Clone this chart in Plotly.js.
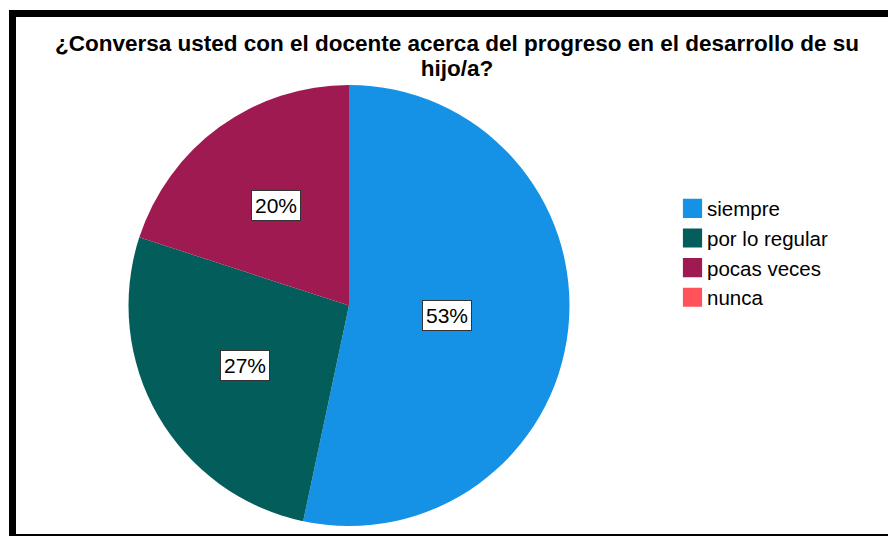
<!DOCTYPE html>
<html>
<head>
<meta charset="utf-8">
<script src="https://cdn.plot.ly/plotly-3.0.1.min.js"></script>
<style>
  html, body { margin: 0; padding: 0; background: #ffffff; }
  #chart { width: 888px; height: 536px; }
  /* larger legend swatches, as in the reference */
  #chart path.legendpie { transform: translate(25.5px, 0px) scale(1.6); }
</style>
</head>
<body>
<div id="chart"></div>
<script>
// ---- data ----
const categories = ['siempre', 'por lo regular', 'pocas veces', 'nunca'];
const counts = [16, 8, 6, 0];
const sliceColors = ['#1592E6', '#035E5B', '#9E1A50', '#FF525B'];
const titleLines = ['¿Conversa usted con el docente acerca del progreso en el desarrollo de su', 'hijo/a?'];

const W = 888, H = 536;
const total = counts.reduce((a, b) => a + b, 0);
const pctLabels = counts.map(v => Math.round(v / total * 100) + '%');

// pie placement (pixels -> paper, margins are zero)
const pieLeft = 128, pieRight = 570, pieTop = 85, pieBottom = 526;
const domX = [pieLeft / W, pieRight / W];
const domY = [1 - pieBottom / H, 1 - pieTop / H];
const cx = (pieLeft + pieRight) / 2, cy = (pieTop + pieBottom) / 2;
const R = Math.min(pieRight - pieLeft, pieBottom - pieTop) / 2;

// label boxes at a point between slice centroid and half radius
const annotations = [];
let cum = 0;
counts.forEach((v, i) => {
  const frac = v / total;
  if (v > 0) {
    const half = frac * Math.PI;               // half-angle (rad)
    const mid = (cum + frac / 2) * 2 * Math.PI; // clockwise from top
    const centroid = (2 * Math.sin(half)) / (3 * half);
    const rr = R * (centroid + 0.5) / 2;
    const px = cx + Math.sin(mid) * rr;
    const py = cy - Math.cos(mid) * rr;
    annotations.push({
      x: px / W, y: 1 - py / H, xref: 'paper', yref: 'paper',
      xanchor: 'center', yanchor: 'middle',
      text: pctLabels[i], showarrow: false,
      font: { family: 'Liberation Sans, Arial, sans-serif', size: 21, color: '#000000' },
      bgcolor: '#ffffff', bordercolor: '#333333', borderwidth: 1, borderpad: 3
    });
  }
  cum += frac;
});

const trace = {
  type: 'pie',
  labels: categories,
  values: counts,
  sort: false,
  direction: 'clockwise',
  rotation: 0,
  textinfo: 'none',
  hoverinfo: 'label+percent',
  marker: { colors: sliceColors, line: { color: '#ffffff', width: 0 } },
  domain: { x: domX, y: domY },
  showlegend: true
};

const shapes = [
  // frame: left thick bar
  { type: 'rect', xref: 'paper', yref: 'paper', x0: 9 / W, x1: 16 / W, y0: -0.01, y1: 1 - 10 / H,
    fillcolor: '#000000', line: { width: 0 } },
  // top bar
  { type: 'rect', xref: 'paper', yref: 'paper', x0: 9 / W, x1: 1.01, y0: 1 - 17 / H, y1: 1 - 10 / H,
    fillcolor: '#000000', line: { width: 0 } },
  // bottom bar
  { type: 'rect', xref: 'paper', yref: 'paper', x0: 9 / W, x1: 1.01, y0: -0.01, y1: 1 - 534 / H,
    fillcolor: '#000000', line: { width: 0 } }
];

const layout = {
  width: W, height: H,
  margin: { l: 0, r: 0, t: 0, b: 0, pad: 0 },
  paper_bgcolor: '#ffffff',
  plot_bgcolor: '#ffffff',
  title: {
    text: titleLines.join('<br>'),
    font: { family: 'Liberation Sans, Arial, sans-serif', size: 22.5, color: '#000000', weight: 'bold' },
    x: 457 / W, xanchor: 'center', xref: 'paper',
    y: 1 - 51 / H, yanchor: 'top', yref: 'container'
  },
  legend: {
    x: 667 / W, xanchor: 'left',
    y: 1 - 253 / H, yanchor: 'middle',
    font: { family: 'Liberation Sans, Arial, sans-serif', size: 20.5, color: '#000000' },
    bgcolor: 'rgba(0,0,0,0)', borderwidth: 0,
    traceorder: 'normal'
  },
  shapes: shapes,
  annotations: annotations
};

Plotly.newPlot('chart', [trace], layout, { displayModeBar: false, staticPlot: true }).then(gd => {
  // tighten the title's line spacing toward the reference
  const lines = gd.querySelectorAll('.gtitle tspan.line');
  if (lines.length > 1) lines[1].setAttribute('dy', '1.12em');
});
</script>
</body>
</html>
